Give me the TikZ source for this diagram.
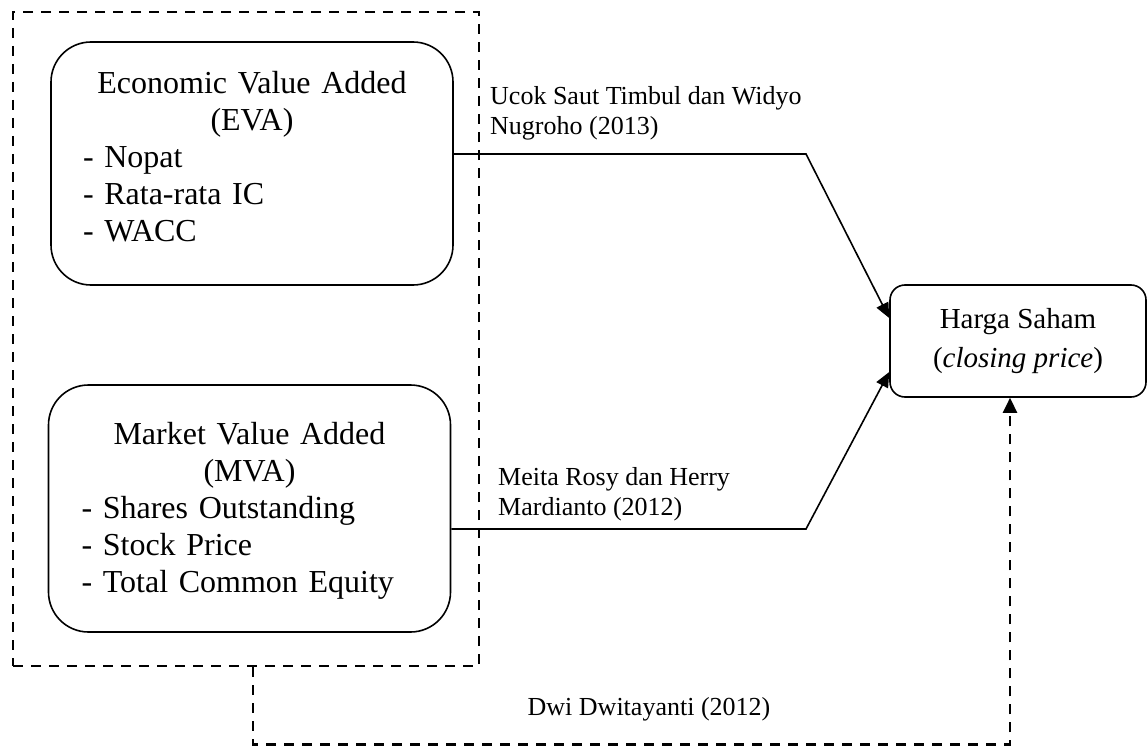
\documentclass[tikz,border=0pt]{standalone}
\usepackage{fontspec}
\setmainfont{Liberation Serif}
\usepackage{xcolor}
\usepackage{tikz}
\usetikzlibrary{arrows.meta,positioning}

\newcommand{\midline}[1]{\makebox[\linewidth]{#1}}

\begin{document}
\begin{tikzpicture}[
  x=1pt, y=-1pt,
  box/.style={draw, line width=1.6pt, rounded corners=40pt, text width=338pt, align=left, inner xsep=32pt, inner ysep=0pt, text height=23pt, minimum width=402pt, font=\fontsize{32}{37}\selectfont},
  price/.style={draw, line width=1.6pt, rounded corners=15pt, align=center, minimum width=256pt, minimum height=112pt, font=\fontsize{29}{39}\selectfont},
  group/.style={draw, line width=2.5pt, dash pattern=on 10pt off 8pt, minimum width=466pt, minimum height=654pt},
  lbl/.style={align=left, inner sep=0pt, font=\fontsize{26}{30}\selectfont},
  arrow/.style={-{Triangle[length=15pt, width=13pt]}, line width=1.6pt},
  dasharrow/.style={-{Triangle[length=15pt, width=14pt]}, line width=2.5pt, dash pattern=on 10pt off 8pt}
]
\useasboundingbox (0,0) rectangle (1148,749);

\node[group] (grp) at (246,339) {};
\node[box, minimum height=243pt, text depth=162pt] (eva) at (252,163.5) {\midline{Economic Value Added}\\\midline{(EVA)}\\- Nopat\\- Rata-rata IC\\- WACC};
\node[box, minimum height=247pt, text depth=152pt, text width=336pt, inner xsep=33pt, minimum width=397pt] (mva) at (249.5,508.5) {\midline{Market Value Added}\\\midline{(MVA)}\\- Shares Outstanding\\- Stock Price\\- Total Common Equity};
\node[price] (harga) at (1018,341) {Harga Saham\\(\textit{closing price})};

\coordinate (bendtop) at (806,154);
\coordinate (bendbot) at (806,529);

\draw[arrow] ([yshift=9.5pt]eva.east) -- (bendtop) -- ([yshift=23pt]harga.west);
\draw[arrow] ([yshift=-20.5pt]mva.east) -- (bendbot) -- ([yshift=-31pt]harga.west);
\draw[dasharrow] ([xshift=7pt]grp.south) -- ++(0,77) -| ([xshift=-8pt]harga.south);

\node[lbl, anchor=west] (ucok) at (490,113) {Ucok Saut Timbul dan Widyo\\Nugroho (2013)};
\node[lbl, anchor=west] (meita) at (498,494) {Meita Rosy dan Herry\\Mardianto (2012)};
\node[lbl] (dwi) at (649,709) {Dwi Dwitayanti (2012)};

\end{tikzpicture}
\end{document}
